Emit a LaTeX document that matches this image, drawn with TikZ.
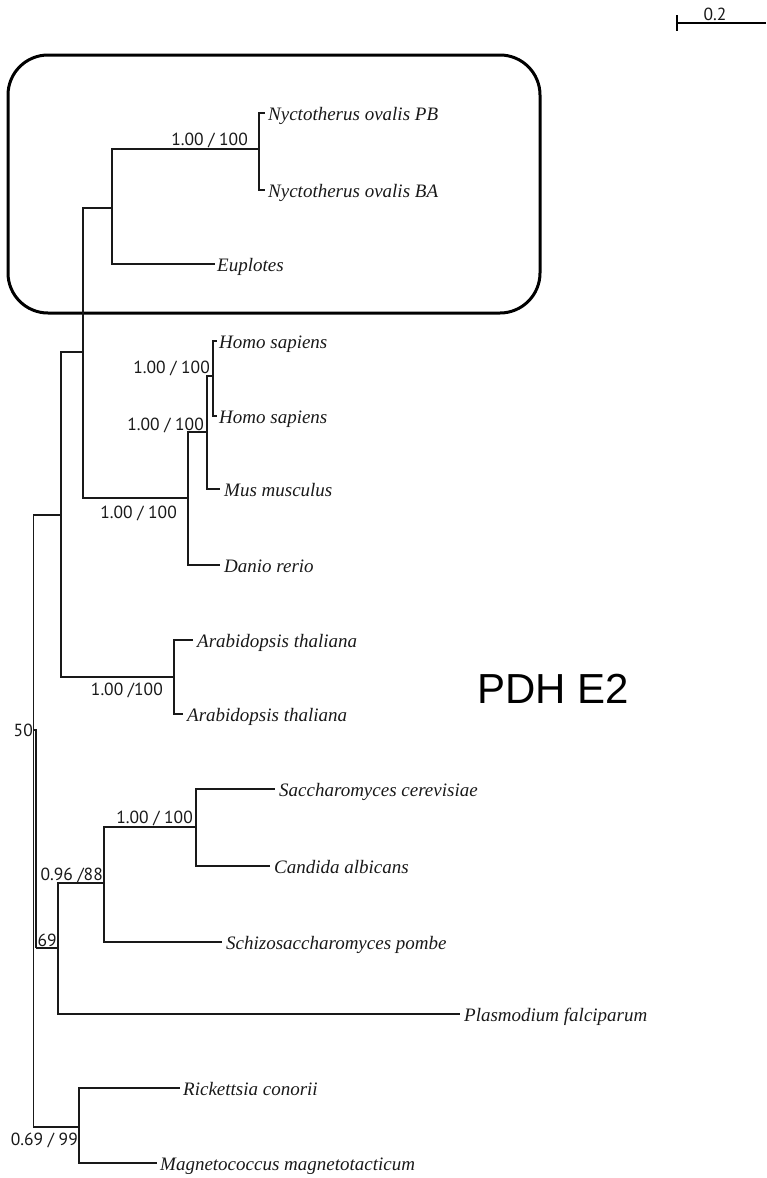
\documentclass[tikz,border=0pt]{standalone}
\usepackage{fontspec}
\setmainfont{Liberation Serif}
\newfontfamily\lblfont{PT Sans}
\newfontfamily\titlefont{Liberation Sans}
\begin{document}
\begin{tikzpicture}[x=1pt,y=-1pt,
  br/.style={line width=1.6pt, draw=black!90},
  sp/.style={anchor=base west, inner sep=0pt, text=black!90, font=\fontsize{19}{19}\selectfont\itshape},
  sup/.style={anchor=base east, inner sep=0pt, text=black!90, font=\lblfont\fontsize{17.5}{17.5}\selectfont},
  supl/.style={sup, anchor=base west},
  boxst/.style={line width=3pt, draw=black, rounded corners=40pt}]
\useasboundingbox (0,0) rectangle (766,1178);

% scale bar
\coordinate (sb1) at (677,23);
\coordinate (sb2) at (766,23);
\coordinate (sbt1) at (677,15);
\coordinate (sbt2) at (677,31);
\draw[line width=1.3pt] (sb1) -- (sb2);
\draw[line width=1.6pt] (sbt1) -- (sbt2);
\node[sup, anchor=base] (sbl) at (715,20) {0.2};

% highlight box
\draw[boxst] (8,55) rectangle (540,313);

% internal nodes
\coordinate (nA) at (259,149);
\coordinate (nB) at (112,208);
\coordinate (nH) at (213,376);
\coordinate (nMM) at (207,432);
\coordinate (nMam) at (188,498);
\coordinate (n83) at (83,352);
\coordinate (nAr) at (174,677);
\coordinate (n61) at (61,515);
\coordinate (n50) at (33.5,730);
\coordinate (n69) at (35.8,948);
\coordinate (n58) at (58,948);
\coordinate (n96) at (104,883);
\coordinate (nSC) at (196,827);
\coordinate (nRick) at (79,1127);
\coordinate (root) at (33.5,930);

% leaf tips
\coordinate (pPB) at (265,113);
\coordinate (pBA) at (265,190);
\coordinate (pEu) at (215,264);
\coordinate (pH1) at (217,341);
\coordinate (pH2) at (217,416);
\coordinate (pMus) at (220,489);
\coordinate (pDan) at (220,565);
\coordinate (pAr1) at (193,640);
\coordinate (pAr2) at (183,714);
\coordinate (pSac) at (275,789);
\coordinate (pCan) at (270,866);
\coordinate (pSch) at (222,942);
\coordinate (pPla) at (460,1014);
\coordinate (pRic) at (180,1088);
\coordinate (pMag) at (157,1163);

% leaf labels
\node[sp] (tPB) at (268,120) {Nyctotherus ovalis PB};
\node[sp] (tBA) at (268,197) {Nyctotherus ovalis BA};
\node[sp] (tEu) at (217,271) {Euplotes};
\node[sp] (tH1) at (219,348) {Homo sapiens};
\node[sp] (tH2) at (219,423) {Homo sapiens};
\node[sp] (tMus) at (224,496) {Mus musculus};
\node[sp] (tDan) at (224,572) {Danio rerio};
\node[sp] (tAr1) at (197,647) {Arabidopsis thaliana};
\node[sp] (tAr2) at (187,721) {Arabidopsis thaliana};
\node[sp] (tSac) at (279,796) {Saccharomyces cerevisiae};
\node[sp] (tCan) at (274,873) {Candida albicans};
\node[sp] (tSch) at (226,949) {Schizosaccharomyces pombe};
\node[sp] (tPla) at (464,1021) {Plasmodium falciparum};
\node[sp] (tRic) at (183,1095) {Rickettsia conorii};
\node[sp] (tMag) at (160,1170) {Magnetococcus magnetotacticum};

% branches
\draw[br] (nA) |- (pPB);
\draw[br] (nA) |- (pBA);
\draw[br] (nB) |- (nA);
\draw[br] (nB) |- (pEu);
\draw[br] (nH) |- (pH1);
\draw[br] (nH) |- (pH2);
\draw[br] (nMM) |- (nH);
\draw[br] (nMM) |- (pMus);
\draw[br] (nMam) |- (nMM);
\draw[br] (nMam) |- (pDan);
\draw[br] (n83) |- (nB);
\draw[br] (n83) |- (nMam);
\draw[br] (nAr) |- (pAr1);
\draw[br] (nAr) |- (pAr2);
\draw[br] (n61) |- (n83);
\draw[br] (n61) |- (nAr);
\draw[br] (n50) |- (n61);
\draw[br] (n50) -| (n69);
\draw[br] (n69) -- (n58);
\draw[br] (nSC) |- (pSac);
\draw[br] (nSC) |- (pCan);
\draw[br] (n96) |- (nSC);
\draw[br] (n96) |- (pSch);
\draw[br] (n58) |- (n96);
\draw[br] (n58) |- (pPla);
\draw[br] (nRick) |- (pRic);
\draw[br] (nRick) |- (pMag);
\draw[br] (root) |- (n50);
\draw[br] (root) |- (nRick);

% support values
\node[sup] (lA) at (248,145) {1.00 / 100};
\node[sup] (lH) at (210,373) {1.00 / 100};
\node[sup] (lMM) at (204,430) {1.00 / 100};
\node[sup] (lMam) at (177,518) {1.00 / 100};
\node[sup] (lAr) at (163,695) {1.00 /100};
\node[sup] (l50) at (33,736) {50};
\node[sup] (lSC) at (193,823) {1.00 / 100};
\node[sup] (l96) at (103,880) {0.96 /88};
\node[supl] (l69) at (37.5,946) {69};
\node[sup] (lRick) at (78,1145) {0.69 / 99};

% title
\node[anchor=base west, inner sep=0pt, font=\titlefont\fontsize{42}{42}\selectfont] (title) at (477,703) {PDH E2};
\end{tikzpicture}
\end{document}
